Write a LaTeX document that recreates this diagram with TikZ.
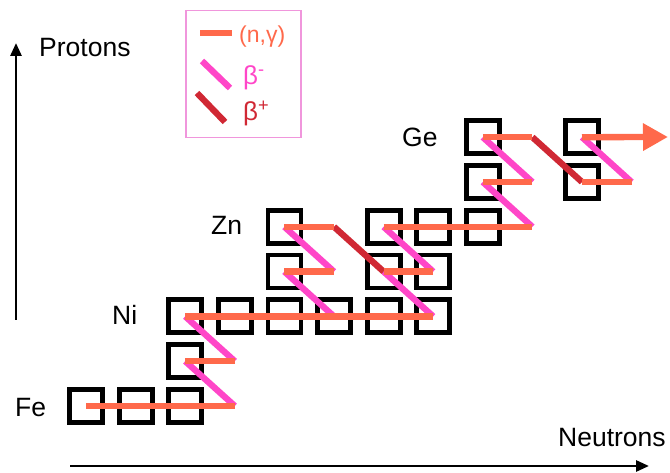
\documentclass[tikz,border=0pt]{standalone}
\usepackage{fontspec}
\setmainfont{Liberation Sans}
\usetikzlibrary{arrows.meta}
\definecolor{ngamma}{RGB}{255,105,75}
\definecolor{betaminus}{RGB}{255,70,200}
\definecolor{betaplus}{RGB}{208,40,52}
\definecolor{legendframe}{RGB}{240,150,220}

\begin{document}
\begin{tikzpicture}[x=1pt,y=-1pt,
  nuclide/.style={draw=black, line width=4.8pt, minimum size=33pt, inner sep=0pt},
  capture/.style={ngamma, line width=6.3pt},
  decayminus/.style={betaminus, line width=6.3pt},
  decayplus/.style={betaplus, line width=6.3pt},
  element/.style={font=\fontsize{26.5}{30}\selectfont, anchor=base west, inner sep=0pt},
  legendtext/.style={font=\fontsize{23}{26}\selectfont, anchor=base west, inner sep=0pt},
  axis/.style={line width=2.8pt, -{Triangle[length=13pt,width=11pt]}},
]
\useasboundingbox (0,0) rectangle (670,473);

% chart grid: column = neutron step, row = proton step
\foreach \i in {0,...,11}
  \foreach \j in {0,...,6}
    \coordinate (g\i-\j) at ({86+49.6*\i},{406-44.8*\j});

% stable nuclides
\foreach \i/\j in {0/0,1/0,2/0, 2/1, 2/2,3/2,4/2,5/2,6/2,7/2,
                   4/3,6/3,7/3, 4/4,6/4,7/4,8/4, 8/5,10/5, 8/6,10/6}
  \node[nuclide] (n\i-\j) at (g\i-\j) {};

% beta-minus decays
\draw[decayminus] (g3-0) -- (g2-1);
\draw[decayminus] (g3-1) -- (g2-2);
\draw[decayminus] (g5-2) -- (g4-3);
\draw[decayminus] (g5-3) -- (g4-4);
\draw[decayminus] (g7-2) -- (g6-3);
\draw[decayminus] (g7-3) -- (g6-4);
\draw[decayminus] (g9-4) -- (g8-5);
\draw[decayminus] (g9-5) -- (g8-6);
\draw[decayminus] (g11-5) -- (g10-6);

% beta-plus decays
\draw[decayplus] (g5-4) -- (g6-3);
\draw[decayplus] (g9-6) -- (g10-5);

% neutron captures
\draw[capture] (g0-0) -- (g3-0);
\draw[capture] (g2-1) -- (g3-1);
\draw[capture] (g2-2) -- (g7-2);
\draw[capture] (g4-3) -- (g5-3);
\draw[capture] (g4-4) -- (g5-4);
\draw[capture] (g6-3) -- (g7-3);
\draw[capture] (g6-4) -- (g9-4);
\draw[capture] (g8-5) -- (g9-5);
\draw[capture] (g8-6) -- (g9-6);
\draw[capture] (g10-5) -- (g11-5);
\coordinate (out) at (668,137);
\draw[capture, -{Triangle[length=25pt,width=26pt]}] (g10-6) -- (out);

% element labels
\node[element] (fe) at (15,417) {Fe};
\node[element] (ni) at (112,325) {Ni};
\node[element] (zn) at (211,235) {Zn};
\node[element] (ge) at (402,147) {Ge};

% axes
\coordinate (ybot) at (16,320);
\coordinate (ytop) at (16,43);
\coordinate (xleft) at (70,466);
\coordinate (xright) at (649,466);
\draw[axis] (ybot) -- (ytop);
\draw[axis] (xleft) -- (xright);
\node[element] (protons) at (39,57) {Protons};
\node[element] (neutrons) at (558,446) {Neutrons};

% legend
\node[draw=legendframe, line width=1.8pt, minimum width=115pt, minimum height=127pt, inner sep=0pt] (legend) at (243.5,74) {};
\coordinate (l1a) at (200,33);
\coordinate (l1b) at (232,33);
\coordinate (l2a) at (202,61);
\coordinate (l2b) at (230,88);
\coordinate (l3a) at (197,93);
\coordinate (l3b) at (225,122);
\draw[capture] (l1a) -- (l1b);
\draw[decayminus] (l2a) -- (l2b);
\draw[decayplus] (l3a) -- (l3b);
\node[legendtext, text=ngamma] (lt1) at (239,43) {(n,γ)};
\node[legendtext, text=betaminus, font=\fontsize{26}{28}\selectfont] (lt2) at (243,85) {β\textsuperscript{-}};
\node[legendtext, text=betaplus, font=\fontsize{26}{28}\selectfont] (lt3) at (243,121) {β\textsuperscript{+}};
\end{tikzpicture}
\end{document}
